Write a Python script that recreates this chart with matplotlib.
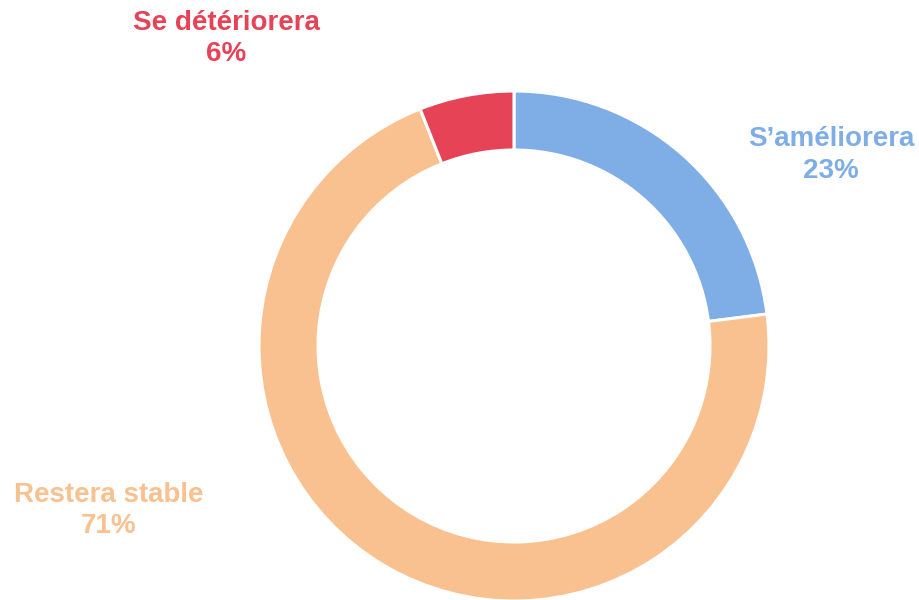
import matplotlib
matplotlib.use("Agg")
import matplotlib.pyplot as plt

categories = ["S\u2019améliorera", "Restera stable", "Se détériorera"]
values = [23, 71, 6]
pct_labels = ["23%", "71%", "6%"]
colors = ["#7FAEE6", "#F9C190", "#E64356"]

W, H = 920, 600
fig = plt.figure(figsize=(W / 100, H / 100), dpi=100)
ax = fig.add_axes([0, 0, 1, 1])
ax.set_xlim(0, W)
ax.set_ylim(0, H)
ax.set_aspect("equal")
ax.axis("off")

cx, cy, R = 514, H - 346, 255
ax.pie(values, colors=colors, startangle=90, counterclock=False,
       center=(cx, cy), radius=R,
       wedgeprops=dict(width=59, edgecolor="white", linewidth=2.2))
ax.set_xlim(0, W)
ax.set_ylim(0, H)

label_pos = [(831, 139, 171), (109, 495, 526), (226, 23, 54)]
font = dict(family=["Liberation Sans", "DejaVu Sans"], fontweight="bold", fontsize=20)
for cat, pct, col, (x, y1, y2) in zip(categories, pct_labels, colors, label_pos):
    ax.text(x, H - y1, cat, color=col, ha="center", va="center", **font)
    ax.text(x, H - y2, pct, color=col, ha="center", va="center", **font)

fig.savefig("out.png", dpi=100)
